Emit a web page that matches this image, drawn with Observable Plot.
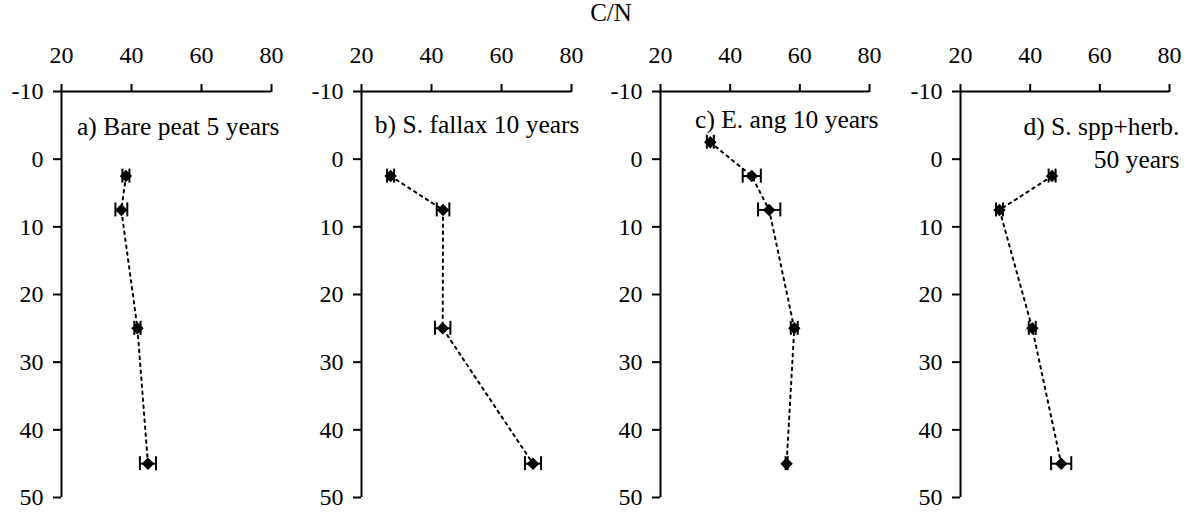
<!DOCTYPE html>
<html>
<head>
<meta charset="utf-8">
<script src="https://cdn.jsdelivr.net/npm/d3@7"></script>
<script src="https://cdn.jsdelivr.net/npm/@observablehq/plot@0.6"></script>
<style>
  html, body { margin: 0; padding: 0; background: #fff; }
  #wrap { position: relative; width: 1192px; height: 517px; overflow: hidden; font-family: "Liberation Serif", "Times New Roman", serif; }
  #title { position: absolute; left: 611px; top: 0px; transform: translateX(-50%); font-size: 25px; line-height: 25px; color: #000; white-space: nowrap; }
  .panel { position: absolute; top: 0; }
  #wrap svg, #wrap svg text { font-family: "Liberation Serif", "Times New Roman", serif !important; }
</style>
</head>
<body>
<div id="wrap">
  <div id="title">C/N</div>
</div>
<script>
// ---- data ----
const xTicks = [20, 40, 60, 80];
const yTicks = [-10, 0, 10, 20, 30, 40, 50];
const title = "C/N";

const panelLabels = ["a) Bare peat 5 years", "b) S. fallax 10 years", "c) E. ang 10 years", "d) S. spp+herb.\n50 years"];

const depthA = [2.5, 7.5, 25, 45];
const cnA = [38.4, 37.1, 41.7, 44.7];
const errA = [1.0, 1.7, 0.9, 2.3];

const depthB = [2.5, 7.5, 25, 45];
const cnB = [28.3, 43.3, 43.2, 69.0];
const errB = [1.0, 1.8, 2.2, 2.3];

const depthC = [-2.5, 2.5, 7.5, 25, 45];
const cnC = [34.3, 46.2, 51.2, 58.4, 56.2];
const errC = [1.0, 2.6, 3.2, 1.0, 0.3];

const depthD = [2.5, 7.5, 25, 45];
const cnD = [46.3, 31.2, 40.6, 48.9];
const errD = [1.0, 1.0, 1.0, 2.9];

const panels = [
  {label: panelLabels[0], depth: depthA, cn: cnA, err: errA},
  {label: panelLabels[1], depth: depthB, cn: cnB, err: errB},
  {label: panelLabels[2], depth: depthC, cn: cnC, err: errC},
  {label: panelLabels[3], depth: depthD, cn: cnD, err: errD}
];

// ---- layout ----
const lefts = [0, 300, 599, 899];
const widths = [300, 300, 300, 293];
const rightMargins = [29, 29, 30, 23];
const labelDx = [8, 8, 9, 10];
const labelDy = [33, 31, 26, 49];

const wrap = document.getElementById("wrap");
document.getElementById("title").textContent = title;

panels.forEach((p, i) => {
  const data = p.depth.map((d, j) => ({depth: d, cn: p.cn[j], lo: p.cn[j] - p.err[j], hi: p.cn[j] + p.err[j]}));
  const chart = Plot.plot({
    width: widths[i],
    height: 517,
    marginLeft: 61,
    marginRight: rightMargins[i],
    marginTop: 91,
    marginBottom: 20,
    style: {fontFamily: "'Liberation Serif', 'Times New Roman', serif", fontSize: "24px", color: "#000", background: "transparent", overflow: "visible"},
    x: {domain: [xTicks[0], xTicks[xTicks.length - 1]]},
    y: {domain: [yTicks[0], yTicks[yTicks.length - 1]], reverse: true},
    marks: [
      Plot.axisX({anchor: "top", ticks: xTicks, tickSize: 8, tickPadding: 21, strokeWidth: 2, label: null, fontSize: 24, tickFormat: d => String(d)}),
      Plot.axisY({anchor: "left", ticks: yTicks, tickSize: 8, tickPadding: 10, strokeWidth: 2, label: null, fontSize: 24, tickFormat: d => String(d)}),
      Plot.ruleY([yTicks[0]], {stroke: "#000", strokeWidth: 2}),
      Plot.ruleX([xTicks[0]], {stroke: "#000", strokeWidth: 2}),
      Plot.line(data, {x: "cn", y: "depth", stroke: "#000", strokeWidth: 2, strokeDasharray: "2.5,4.5"}),
      Plot.ruleY(data, {y: "depth", x1: "lo", x2: "hi", stroke: "#000", strokeWidth: 2}),
      Plot.ruleX(data, {x: "lo", y1: "depth", y2: "depth", insetTop: -7, insetBottom: -7, stroke: "#000", strokeWidth: 2}),
      Plot.ruleX(data, {x: "hi", y1: "depth", y2: "depth", insetTop: -7, insetBottom: -7, stroke: "#000", strokeWidth: 2}),
      Plot.dot(data, {x: "cn", y: "depth", symbol: "diamond2", r: 5.6, fill: "#000", stroke: "none"}),
      Plot.text([p.label], {frameAnchor: "top-right", text: d => d, textAnchor: "end", lineAnchor: "middle", lineHeight: 1.3, dx: labelDx[i], dy: labelDy[i], fontSize: 25.5, fill: "#000"})
    ]
  });
  chart.classList.add("panel");
  chart.style.left = lefts[i] + "px";
  wrap.appendChild(chart);
});
</script>
</body>
</html>
